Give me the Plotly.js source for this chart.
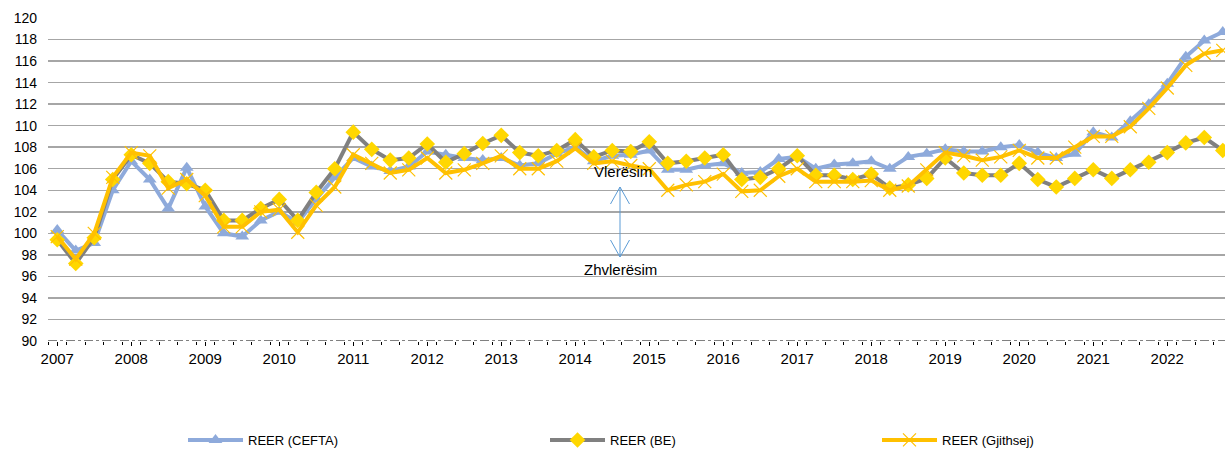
<!DOCTYPE html>
<html>
<head>
<meta charset="utf-8">
<script src="https://cdn.plot.ly/plotly-3.0.1.min.js"></script>
<style>html,body{margin:0;padding:0;background:#fff;}#chart{width:1225px;height:452px;}</style>
</head>
<body>
<div id="chart"></div>
<script>
// Quarterly periods 2007Q1 .. 2022Q4
const years = ["2007","2008","2009","2010","2011","2012","2013","2014","2015","2016","2017","2018","2019","2020","2021","2022"];
const quarters = [];
years.forEach(y => { for (let q = 1; q <= 4; q++) quarters.push(y + "Q" + q); });

const reerCEFTA = [
  100.3, 98.4, 99.1, 104.0,
  106.7, 105.0, 102.3, 106.1,
  102.5, 100.0, 99.7, 101.2,
  102.0, 101.0, 103.2, 105.2,
  107.0, 106.2, 105.8, 106.2,
  107.6, 107.3, 107.0, 106.8,
  107.0, 106.3, 106.5, 107.4,
  108.0, 106.7, 107.2, 107.3,
  107.7, 105.9, 105.9, 106.3,
  106.5, 105.6, 105.7, 106.9,
  107.1, 106.0, 106.4, 106.5,
  106.7, 106.0, 107.1, 107.4,
  107.8, 107.6, 107.6, 108.0,
  108.2, 107.5, 107.0, 107.4,
  109.4, 108.9, 110.4, 112.0,
  113.9, 116.4, 117.9, 118.7
];
const reerBE = [
  99.4, 97.2, 99.6, 105.0,
  107.3, 106.5, 104.8, 104.6,
  104.0, 101.2, 101.2, 102.3,
  103.15, 101.2, 103.8, 106.0,
  109.4, 107.8, 106.8, 107.0,
  108.3, 106.6, 107.4, 108.35,
  109.1, 107.5, 107.2, 107.7,
  108.7, 107.1, 107.7, 107.6,
  108.5, 106.5, 106.7, 107.0,
  107.3, 105.0, 105.2, 106.0,
  107.2, 105.4, 105.4, 105.0,
  105.5, 104.2, 104.5, 105.1,
  107.0, 105.6, 105.4, 105.4,
  106.5, 105.0, 104.3, 105.1,
  105.9, 105.1, 105.9, 106.6,
  107.5, 108.4, 108.9, 107.7
];
const reerGjithsej = [
  99.7, 97.6, 100.0, 105.2,
  107.5, 107.2, 104.2, 105.0,
  103.5, 100.6, 100.6, 102.0,
  102.2, 100.1, 102.6, 104.3,
  107.3, 106.5, 105.6, 105.9,
  107.0, 105.6, 105.9, 106.5,
  107.2, 106.0, 106.0, 106.7,
  107.9, 106.5, 106.7, 106.3,
  106.0, 104.0, 104.5, 104.8,
  105.5, 103.9, 104.0, 105.3,
  106.0, 104.8, 104.8, 104.8,
  104.9, 104.0, 104.4, 105.9,
  107.5, 107.2, 106.8, 107.1,
  107.7, 107.0, 107.0, 108.0,
  109.0, 109.0, 109.9, 111.6,
  113.5, 115.6, 116.7, 117.0
];
const seriesNames = ["REER (CEFTA)", "REER (BE)", "REER (Gjithsej)"];
const yTicks = [90,92,94,96,98,100,102,104,106,108,110,112,114,116,118,120];

const xIdx = quarters.map((_, i) => i);
const yearTickVals = years.map((_, i) => i * 4);

const FONT = "Liberation Sans, Arial, sans-serif";

const traces = [
  {
    x: xIdx, y: reerCEFTA, name: seriesNames[0], type: "scatter", mode: "lines+markers",
    line: {color: "#8eaadb", width: 4},
    marker: {symbol: "triangle-up", size: 12, color: "#8eaadb"},
    legend: "legend"
  },
  {
    x: xIdx, y: reerBE, name: seriesNames[1], type: "scatter", mode: "lines+markers",
    line: {color: "#808080", width: 4},
    marker: {symbol: "diamond", size: 12, color: "#ffd700"},
    legend: "legend2"
  },
  {
    x: xIdx, y: reerGjithsej, name: seriesNames[2], type: "scatter", mode: "lines+markers",
    line: {color: "#ffc000", width: 4},
    marker: {symbol: "x-thin-open", size: 13, color: "#ffc000", line: {color: "#ffc000", width: 1.2}},
    legend: "legend3"
  }
];

// pixel helpers for the annotation arrow (plot area: x 48..1225, y 18..341)
const px = p => (p - 48) / 1177;
const py = p => (341 - p) / 323;
const arrowColor = "#5b9bd5";

const legendBase = {orientation: "h", yanchor: "middle", y: py(440), xanchor: "left",
  font: {family: FONT, size: 13, color: "#000"}, bgcolor: "rgba(0,0,0,0)", itemwidth: 55};

const layout = {
  width: 1225, height: 452,
  margin: {l: 48, r: 0, t: 18, b: 111, autoexpand: false},
  paper_bgcolor: "#fff", plot_bgcolor: "#fff",
  font: {family: FONT, size: 13, color: "#000"},
  xaxis: {
    range: [-0.5, 63.12], tickmode: "array", tickvals: yearTickVals, ticktext: years,
    showgrid: false, zeroline: false, showline: false, automargin: false,
    ticks: "outside", ticklen: 4, tickcolor: "#000", tickwidth: 1,
    tickfont: {family: FONT, size: 15, color: "#000"},
    minor: {ticks: "outside", ticklen: 3, tickcolor: "#000", tick0: 0.5, dtick: 1, showgrid: false}
  },
  yaxis: {
    range: [90, 120], tickmode: "array", tickvals: yTicks, automargin: false,
    showgrid: true, gridcolor: "#a6a6a6", gridwidth: 1.5, zeroline: false, showline: false,
    ticks: "", ticklabelstandoff: 10,
    tickfont: {family: FONT, size: 14, color: "#000"}
  },
  showlegend: true,
  legend: Object.assign({}, legendBase, {x: px(183)}),
  legend2: Object.assign({}, legendBase, {x: px(545)}),
  legend3: Object.assign({}, legendBase, {x: px(877)}),
  shapes: [
    {type: "line", xref: "paper", yref: "y", x0: 0, x1: 1, y0: 90, y1: 90,
     line: {color: "#000", width: 1, dash: "dashdot"}},
    {type: "line", xref: "paper", yref: "paper", x0: px(620), x1: px(620), y0: py(187), y1: py(257),
     line: {color: arrowColor, width: 1}},
    {type: "path", xref: "paper", yref: "paper",
     path: `M${px(610.5)},${py(204)} L${px(620)},${py(187)} L${px(629.5)},${py(204)}`,
     line: {color: arrowColor, width: 1}},
    {type: "path", xref: "paper", yref: "paper",
     path: `M${px(610.5)},${py(240)} L${px(620)},${py(257)} L${px(629.5)},${py(240)}`,
     line: {color: arrowColor, width: 1}}
  ],
  annotations: [
    {xref: "paper", yref: "paper", x: px(623), y: py(171), text: "Vlerësim", showarrow: false,
     xanchor: "center", yanchor: "middle", font: {family: FONT, size: 15, color: "#000"}},
    {xref: "paper", yref: "paper", x: px(620), y: py(269), text: "Zhvlerësim", showarrow: false,
     xanchor: "center", yanchor: "middle", font: {family: FONT, size: 15, color: "#000"}}
  ]
};

Plotly.newPlot("chart", traces, layout, {displayModeBar: false, staticPlot: true});
</script>
</body>
</html>
